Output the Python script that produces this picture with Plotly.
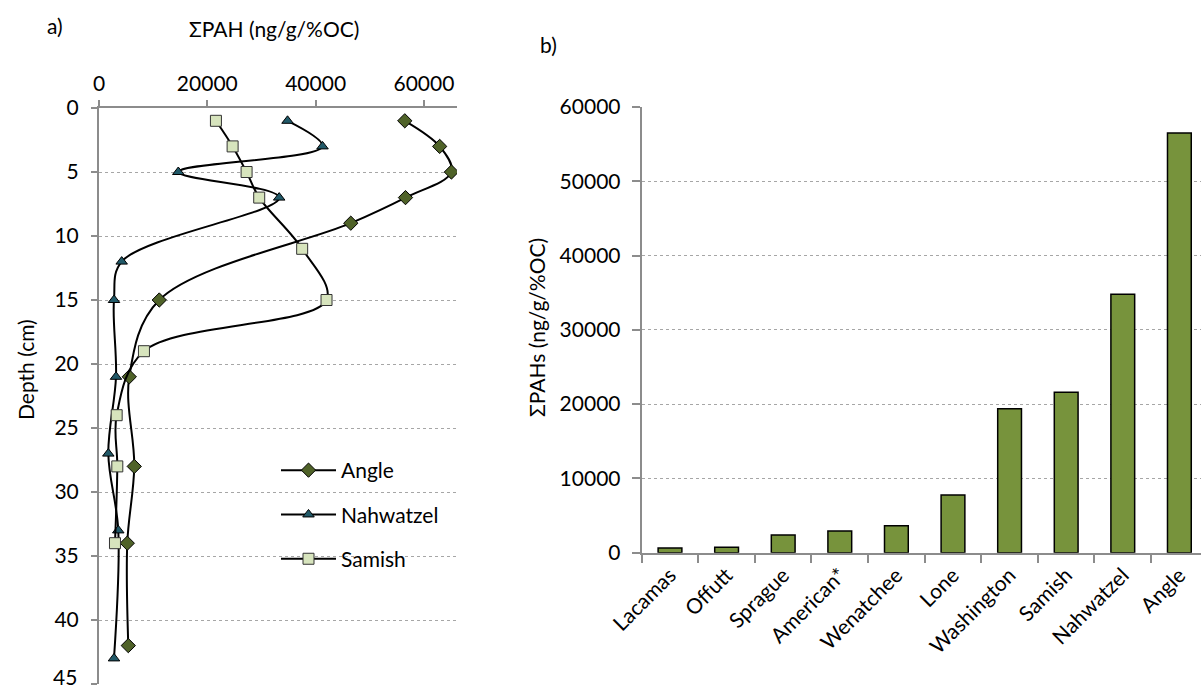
import plotly.graph_objects as go

# ---- data: left panel (depth profiles) ----
angle_depth = [1, 3, 5, 7, 9, 15, 21, 28, 34, 42]
angle_pah = [56460, 62900, 65070, 56590, 46490, 11130, 5590, 6510, 5220, 5410]

nahw_depth = [1, 3, 5, 7, 12, 15, 21, 27, 33, 43]
nahw_pah = [34810, 41270, 14640, 33270, 4190, 2770, 3140, 1720, 3560, 2770]

samish_depth = [1, 3, 5, 7, 11, 15, 19, 24, 28, 34]
samish_pah = [21590, 24670, 27250, 29580, 37510, 42010, 8300, 3260, 3380, 2950]

# ---- data: right panel (surface totals) ----
lakes = ["Lacamas", "Offutt", "Sprague", "American*", "Wenatchee", "Lone",
         "Washington", "Samish", "Nahwatzel", "Angle"]
lake_pah = [620, 730, 2380, 2920, 3630, 7760, 19380, 21590, 34800, 56500]

depth_ticks = [0, 5, 10, 15, 20, 25, 30, 35, 40, 45]
pah_ticks_left = [0, 20000, 40000, 60000]
pah_ticks_right = [0, 10000, 20000, 30000, 40000, 50000, 60000]

FONT = "Lato, 'Liberation Sans', sans-serif"
FS = 21
W, H = 1201, 692
AXC = "#8c8c8c"
GRIDC = "#a6a6a6"

fig = go.Figure()

line_style = dict(color="black", width=2, shape="spline", smoothing=1.0)

fig.add_trace(go.Scatter(
    x=angle_pah, y=angle_depth, name="Angle", mode="lines+markers",
    line=line_style,
    marker=dict(symbol="diamond", size=11, color="#4f6228",
                line=dict(color="black", width=1)),
    xaxis="x", yaxis="y", legendgroup="a"))
fig.add_trace(go.Scatter(
    x=nahw_pah, y=nahw_depth, name="Nahwatzel", mode="lines+markers",
    line=line_style,
    marker=dict(symbol="triangle-up", size=10, color="#215968",
                line=dict(color="black", width=1)),
    xaxis="x", yaxis="y", legendgroup="b"))
fig.add_trace(go.Scatter(
    x=samish_pah, y=samish_depth, name="Samish", mode="lines+markers",
    line=line_style,
    marker=dict(symbol="square", size=11, color="#d7e4bd",
                line=dict(color="#333333", width=1)),
    xaxis="x", yaxis="y", legendgroup="c"))

fig.add_trace(go.Bar(
    x=lakes, y=lake_pah, width=0.42, showlegend=False,
    marker=dict(color="#77933c", line=dict(color="black", width=1.5)),
    xaxis="x2", yaxis="y2"))

axis_common = dict(automargin=False, zeroline=False, showline=True, linecolor=AXC,
                   linewidth=2, ticks="outside", tickcolor=AXC, tickwidth=2)

depth_text = [str(v) for v in depth_ticks]
depth_text[-1] = ""  # bottom label drawn separately so it stays inside the page

fig.update_layout(
    width=W, height=H,
    margin=dict(l=0, r=0, t=0, b=0, autoexpand=False),
    paper_bgcolor="white", plot_bgcolor="white",
    font=dict(family=FONT, size=FS, color="black"),
    showlegend=True,
    legend=dict(x=276 / W, y=1 - 450 / H, xanchor="left", yanchor="top",
                bgcolor="rgba(0,0,0,0)", font=dict(size=FS), tracegroupgap=14,
                traceorder="grouped", itemwidth=55),
    xaxis=dict(domain=[99 / W, 457 / W], range=[0, 66100], side="top",
               anchor="y", tickvals=pah_ticks_left,
               ticktext=[str(v) for v in pah_ticks_left],
               showgrid=False, ticklen=6, ticklabelstandoff=1, **axis_common),
    yaxis=dict(domain=[1 - 684 / H, 1 - 108 / H], range=[45, 0], anchor="x",
               tickvals=depth_ticks, ticktext=depth_text,
               showgrid=True, gridcolor=GRIDC, griddash="dot", gridwidth=1,
               ticklen=6, ticklabelstandoff=8, **axis_common),
    xaxis2=dict(domain=[641.7 / W, 1.0], range=[-0.5, 9.382], anchor="y2",
                type="category", tickangle=-45, tickson="boundaries",
                showgrid=False, ticklen=8, **axis_common),
    yaxis2=dict(domain=[1 - 552.7 / H, 1 - 107 / H], range=[0, 60000], anchor="x2",
                tickvals=pah_ticks_right, ticktext=[str(v) for v in pah_ticks_right],
                showgrid=True, gridcolor=GRIDC, griddash="dot", gridwidth=1,
                ticklen=8, ticklabelstandoff=7, **axis_common),
    shapes=[
        dict(type="rect", xref="paper", yref="paper", layer="between",
             x0=247 / W, x1=457 / W, y0=1 - 600 / H, y1=1 - 445 / H,
             fillcolor="white", line=dict(width=0)),
    ],
    annotations=[
        dict(text="45", x=79 / W, y=1 - 676 / H, xref="paper", yref="paper",
             showarrow=False, xanchor="right", yanchor="middle", font=dict(size=FS)),
        dict(text="a)", x=55 / W, y=1 - 25 / H, xref="paper", yref="paper",
             showarrow=False, xanchor="center", yanchor="middle", font=dict(size=FS)),
        dict(text="b)", x=548 / W, y=1 - 45 / H, xref="paper", yref="paper",
             showarrow=False, xanchor="center", yanchor="middle", font=dict(size=FS)),
        dict(text="ΣPAH (ng/g/%OC)", x=274 / W, y=1 - 28 / H, xref="paper", yref="paper",
             showarrow=False, xanchor="center", yanchor="middle", font=dict(size=FS)),
        dict(text="Depth (cm)", x=25 / W, y=1 - 370 / H, xref="paper", yref="paper",
             showarrow=False, xanchor="center", yanchor="middle", textangle=-90,
             font=dict(size=FS)),
        dict(text="ΣPAHs (ng/g/%OC)", x=536 / W, y=1 - 328 / H, xref="paper", yref="paper",
             showarrow=False, xanchor="center", yanchor="middle", textangle=-90,
             font=dict(size=FS)),
    ],
)

fig.write_html("out.html")
